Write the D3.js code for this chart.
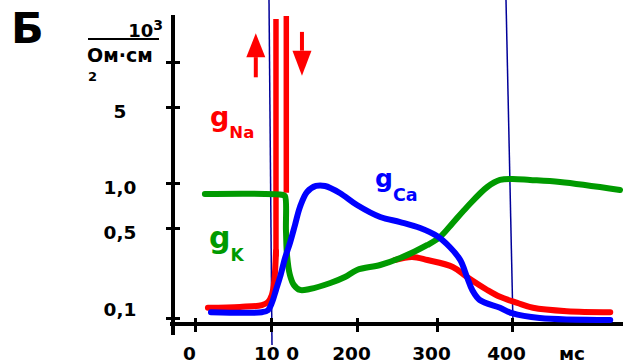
<!DOCTYPE html>
<html>
<head>
<meta charset="utf-8">
<script src="https://cdn.jsdelivr.net/npm/d3@7"></script>
<style>
  body { margin: 0; background: #fff; }
  svg { display: block; font-family: "DejaVu Sans", Verdana, sans-serif; font-weight: bold; }
</style>
</head>
<body>
<svg id="chart" width="623" height="363"></svg>
<script>
// time ticks (ms) and conductance ticks
const xTicks = [0, 100, 200, 300, 400];
const xTickLabels = ["0", "10 0", "200", "300", "400"];
const yTicks = [0.1, 0.5, 1, 5, 10];
const yTickLabels = ["0,1", "0,5", "1,0", "5", ""];

// [time ms, conductance]
const gNaBase = [[17, 0.12], [59, 0.122], [88, 0.126], [96, 0.133], [101, 0.151], [104, 0.2], [105.8, 0.33]];
const gNaUp = [[105.8, 0.3], [105.8, 19.4]];
const gNaDown = [[117.8, 20.3], [117.8, 0.86]];
const gNaTail = [[247, 0.282], [269, 0.298], [288, 0.282], [321, 0.249], [340, 0.208], [367, 0.165],
  [384, 0.146], [407, 0.131], [428, 0.12], [473, 0.113], [531, 0.111]];
const gK = [[13, 0.844], [114, 0.831], [116.3, 0.818], [117.4, 0.48], [118.6, 0.309], [122, 0.216],
  [126.7, 0.18], [133.7, 0.165], [145, 0.168], [169, 0.187], [186, 0.208], [200, 0.236], [229, 0.258],
  [254, 0.292], [288, 0.369], [304, 0.426], [321, 0.54], [340, 0.691], [367, 0.94], [384, 1.066],
  [400, 1.088], [424, 1.066], [464, 1.021], [544, 0.898]];
const gCa = [[21, 0.111], [88, 0.111], [96, 0.115], [101, 0.131], [105.8, 0.165], [110.5, 0.208],
  [116.3, 0.292], [122, 0.382], [127.9, 0.524], [133.7, 0.691], [141.9, 0.871], [152.3, 0.955],
  [162.8, 0.955], [180, 0.857], [200, 0.712], [229, 0.592], [254, 0.548], [279, 0.5], [300, 0.433],
  [317, 0.356], [331, 0.282], [340, 0.208], [347, 0.165], [357, 0.138], [384, 0.12], [400, 0.109],
  [437, 0.1], [531, 0.0965]];

const markers = [100, 400];
const arrows = [{t: 80, from: 7.9, to: 15.6}, {t: 136, from: 15.9, to: 8.1}];

const RED = "#ff0000", GREEN = "#009a00", BLUE = "#0000ff", NAVY = "#000099";

const svg = d3.select("#chart");

// axes in the original are not evenly spaced, so piecewise scales
const x = d3.scaleLinear()
  .domain([0, 100, 200, 300, 400, 500])
  .range([195, 271, 357, 437, 512, 587]);
const y = d3.scaleLog()
  .domain([0.1, 0.5, 1, 5, 10, 20])
  .range([318, 228, 183, 107, 62, 17]);

const axisX = 173, axisY = 324;

// thin vertical markers
svg.selectAll("line.marker")
  .data(markers)
  .enter().append("line")
  .attr("class", "marker")
  .attr("x1", (d, i) => x(d) - (i ? 6 : 2))
  .attr("y1", 0)
  .attr("x2", d => x(d) + 1)
  .attr("y2", (d, i) => i ? axisY : 345)
  .attr("stroke", NAVY)
  .attr("stroke-width", 1.5);

// axis lines
svg.append("line")
  .attr("x1", axisX).attr("x2", axisX)
  .attr("y1", 15).attr("y2", 335)
  .attr("stroke", "#000").attr("stroke-width", 4);
svg.append("line")
  .attr("x1", 170).attr("x2", 623)
  .attr("y1", axisY).attr("y2", axisY)
  .attr("stroke", "#000").attr("stroke-width", 4);

let gy = svg.append("g")
  .attr("transform", `translate(${axisX},0)`)
  .call(d3.axisLeft(y).tickValues(yTicks).tickFormat((d, i) => yTickLabels[i]));
gy.select(".domain").remove();
gy.selectAll(".tick line")
  .attr("x1", -7).attr("x2", 7)
  .attr("stroke", "#000").attr("stroke-width", 3);
gy.selectAll(".tick text")
  .attr("x", 120 - axisX)
  .attr("y", d => d < 0.2 ? -8 : 5)
  .attr("text-anchor", "middle")
  .attr("fill", "#000")
  .style("font-family", "DejaVu Sans")
  .style("font-weight", "bold")
  .style("font-size", "18.5px");

let gx = svg.append("g")
  .attr("transform", `translate(0,${axisY})`)
  .call(d3.axisBottom(x).tickValues(xTicks).tickFormat((d, i) => xTickLabels[i]));
gx.select(".domain").remove();
gx.selectAll(".tick line")
  .attr("y1", -6).attr("y2", 8)
  .attr("stroke", "#000").attr("stroke-width", 3);
gx.selectAll(".tick text")
  .attr("y", 36)
  .attr("dy", 0)
  .attr("dx", d => d === 100 ? 5 : -6)
  .attr("fill", "#000")
  .style("font-family", "DejaVu Sans")
  .style("font-weight", "bold")
  .style("font-size", "18.5px");

svg.append("text")
  .attr("x", x(480)).attr("y", axisY + 36)
  .attr("text-anchor", "middle")
  .style("font-size", "18.5px")
  .text("мс");

// curves
const curved = d3.line()
  .x(d => x(d[0]))
  .y(d => y(d[1]))
  .curve(d3.curveCatmullRom.alpha(0.5));
const straight = d3.line()
  .x(d => x(d[0]))
  .y(d => y(d[1]));

function draw(data, gen, color, w, cap) {
  svg.append("path")
    .datum(data)
    .attr("fill", "none")
    .attr("stroke", color)
    .attr("stroke-width", w)
    .attr("stroke-linejoin", "round")
    .attr("stroke-linecap", cap || "round")
    .attr("d", gen);
}

draw(gNaTail, curved, RED, 6);
draw(gNaBase, curved, RED, 6);
draw(gNaUp, straight, RED, 5.5, "butt");
draw(gNaDown, straight, RED, 5.5, "butt");
draw(gK, curved, GREEN, 6);
draw(gCa, curved, BLUE, 6);

// red arrows
arrows.forEach(a => {
  const up = a.to > a.from;
  const tip = y(a.to), base = tip + (up ? 24 : -25);
  svg.append("line")
    .attr("x1", x(a.t)).attr("x2", x(a.t))
    .attr("y1", y(a.from)).attr("y2", base)
    .attr("stroke", RED).attr("stroke-width", 4);
  svg.append("path")
    .attr("d", `M${x(a.t)},${tip}L${x(a.t) - 9.5},${base}L${x(a.t) + 9.5},${base}Z`)
    .attr("fill", RED);
});

// series labels
function label(px, py, main, sub, color, big, small, drop) {
  const t = svg.append("text").attr("x", px).attr("y", py).attr("fill", color);
  t.append("tspan").style("font-size", big + "px").text(main);
  t.append("tspan").style("font-size", small + "px").attr("dy", drop).text(sub);
}
label(210, 126, "g", "Na", RED, 27, 16.5, 12);
label(209, 248, "g", "K", GREEN, 30, 17, 13);
label(375, 187, "g", "Ca", BLUE, 25, 17.5, 14);

// header: panel letter and units
svg.append("text")
  .attr("x", 11).attr("y", 43)
  .style("font-size", "43px")
  .text("Б");

const unit = svg.append("text")
  .attr("x", 163).attr("y", 37)
  .attr("text-anchor", "end")
  .style("font-size", "18px");
unit.append("tspan").text("10");
unit.append("tspan").attr("dy", -7).style("font-size", "14px").text("3");
svg.append("line")
  .attr("x1", 88).attr("x2", 159)
  .attr("y1", 39).attr("y2", 39)
  .attr("stroke", "#000").attr("stroke-width", 2);
svg.append("text")
  .attr("x", 87).attr("y", 62)
  .style("font-size", "19px")
  .text("Ом·см");
svg.append("text")
  .attr("x", 88).attr("y", 81)
  .style("font-size", "13px")
  .text("2");
</script>
</body>
</html>
